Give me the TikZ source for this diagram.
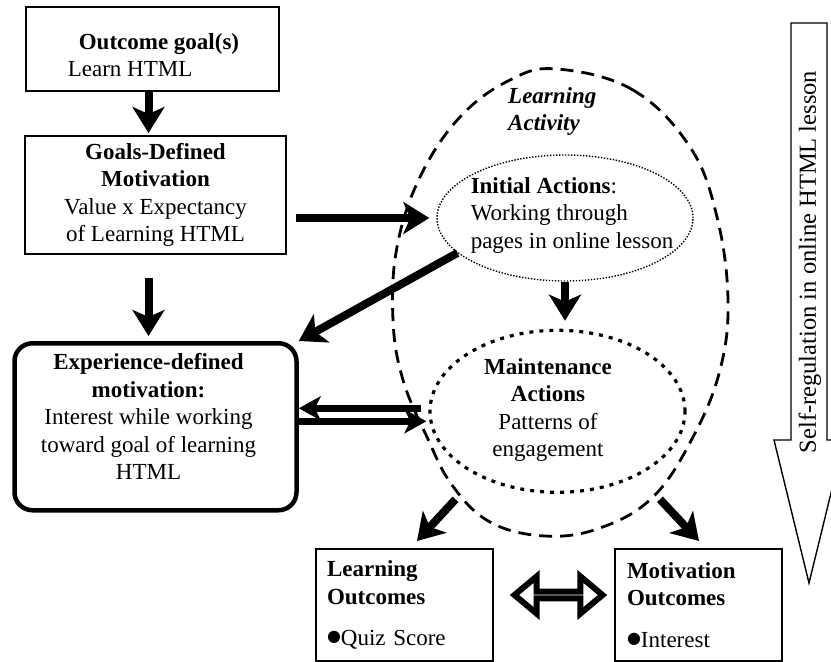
\documentclass[tikz,border=0pt]{standalone}
\usepackage{fontspec}
\setmainfont{Liberation Serif}
\newfontfamily\srsymfont{DejaVu Sans}
\usepackage{tikz}
\usetikzlibrary{
  arrows.meta,
  shapes.geometric,
  shapes.arrows,
  positioning,
  calc
}
\newcommand{\srfont}{\fontsize{23pt}{27.5pt}\selectfont}
\newcommand{\srdot}{\raisebox{4pt}{\srsymfont\fontsize{16pt}{16pt}\selectfont ●}}
\tikzset{
  srnode/.style={draw, font=\srfont, align=center, inner sep=0pt},
  srbox/.style={srnode, line width=2pt},
  srround/.style={srnode, line width=4.5pt, rounded corners=18pt},
  srout/.style={srnode, line width=2pt, align=left, minimum height=112pt},
  srinit/.style={draw, ellipse, inner sep=0pt, line width=1.4pt, dash pattern=on 1.4pt off 1.6pt},
  srmaint/.style={draw, ellipse, inner sep=0pt, line width=3.2pt, dash pattern=on 4pt off 6pt},
  srzone/.style={draw, line width=2.8pt, dash pattern=on 13pt off 8pt},
  srflow/.style={line width=8pt, -{Stealth[length=26pt, width=32pt, inset=7pt]}},
  srback/.style={line width=6.5pt, -{Stealth[length=22pt, width=24pt, inset=6pt]}},
  srtext/.style={font=\srfont, inner sep=0pt, align=center},
  srtwoway/.style={double arrow, draw, fill=white, line width=6pt, inner sep=0pt,
    minimum width=37pt, minimum height=88pt, double arrow head extend=13pt,
    double arrow tip angle=80}
}

\begin{document}
\begin{tikzpicture}[x=1pt, y=-1pt]
  \useasboundingbox (0,0) rectangle (831,662);
  % left column
  \node[srbox, minimum width=253pt, minimum height=84pt] (outgoal) at (152.5,49) {};
  \node[srtext, align=left] (outtxt) at ([xshift=1pt, yshift=-6pt]outgoal.center)
    {\hspace*{11pt}\textbf{Outcome goal(s)}\\Learn HTML};
  \node[srbox, below=43pt of outgoal, xshift=3pt, minimum width=261pt, minimum height=118pt] (goaldef)
    {\textbf{Goals-Defined}\\\textbf{Motivation}\\Value x Expectancy\\of Learning HTML};
  \node[srround, below=86pt of goaldef, minimum width=282pt, minimum height=167pt] (expdef) {};
  \node[srtext] (exptxt) at ([xshift=-7pt, yshift=10pt]expdef.center)
    {\textbf{Experience-defined}\\\textbf{motivation:}\\Interest while working\\toward goal of learning\\HTML};

  % learning activity
  \draw[srzone] plot[smooth cycle, tension=0.65] coordinates {(557,69) (633,90) (690,147)
    (717,217) (728,300) (720,370) (693,437) (653,497) (600,528) (545,536) (490,522)
    (452,485) (427,437) (403,380) (393,320) (397,247) (420,177) (460,117) (510,80)};
  \node[srtext, align=left, anchor=north west, font=\srfont\bfseries\itshape] (lrnact) at (508,87)
    {Learning\\Activity};

  % actions
  \node[srinit, minimum width=256pt, minimum height=126pt] (initact) at (565,218) {};
  \node[srtext, align=left] (inittxt) at ([xshift=7pt, yshift=3pt]initact.center)
    {\textbf{Initial Actions}:\\Working through\\pages in online lesson};
  \node[srmaint, minimum width=255pt, minimum height=162pt, below=47pt of initact, xshift=-7.5pt] (maintact) {};
  \node[srtext] (mainttxt) at ([xshift=-9.5pt, yshift=1.5pt]maintact.center)
    {\textbf{Maintenance}\\\textbf{Actions}\\Patterns of\\engagement};

  % outcomes
  \node[srout, text width=155pt, inner xsep=11pt] (lrnout) at (404.5,605)
    {\textbf{Learning}\\\textbf{Outcomes}\\[14pt]\srdot Quiz Score};
  \node[srout, text width=143pt, inner xsep=12pt, right=120pt of lrnout] (motout)
    {\textbf{Motivation}\\\textbf{Outcomes}\\[14pt]\srdot Interest};
  \node[srtwoway, xshift=4.5pt, yshift=10pt] (bothway) at ($(lrnout.east)!0.5!(motout.west)$) {};

  % arrows
  \coordinate (mhigh) at ([yshift=3pt]maintact.west);
  \coordinate (mlow) at ([yshift=-10pt]maintact.west);
  \draw[srflow, shorten >=2pt] ([xshift=-4pt]outgoal.south) -- ([xshift=-4pt]outgoal.south |- goaldef.north);
  \draw[srflow, shorten <=23pt, shorten >=5pt] ([xshift=-7pt]goaldef.south) -- ([xshift=-7pt]goaldef.south |- expdef.north);
  \draw[srflow, shorten <=9pt, shorten >=7pt] (goaldef.east |- initact.west) -- (initact.west);
  \draw[srflow] (initact.198) -- (expdef.north east);
  \draw[srflow, shorten >=8pt] (initact.south) -- (initact.south |- maintact.north);
  \draw[srback, shorten <=7pt] (mhigh) -- (mhigh -| expdef.east);
  \draw[srback, shorten >=2pt] (mlow -| expdef.east) -- (mlow);
  \draw[srflow] ([xshift=-102pt, yshift=-88pt]maintact.center) -- ([xshift=12.5pt, yshift=7pt]lrnout.north);
  \draw[srflow] ([xshift=102.5pt, yshift=-88pt]maintact.center) -- ([xshift=0.5pt, yshift=7pt]motout.north);

  % self-regulation
  \draw[line width=1.4pt] (791,23) -- (827,23) -- (827,440) -- (844,440) -- (809,583)
    -- (774,440) -- (791,440) -- cycle;
  \node[srtext, rotate=90, font=\fontsize{24.5pt}{28pt}\selectfont] (selfreg) at (810,262)
    {Self-regulation in online HTML lesson};
\end{tikzpicture}
\end{document}
